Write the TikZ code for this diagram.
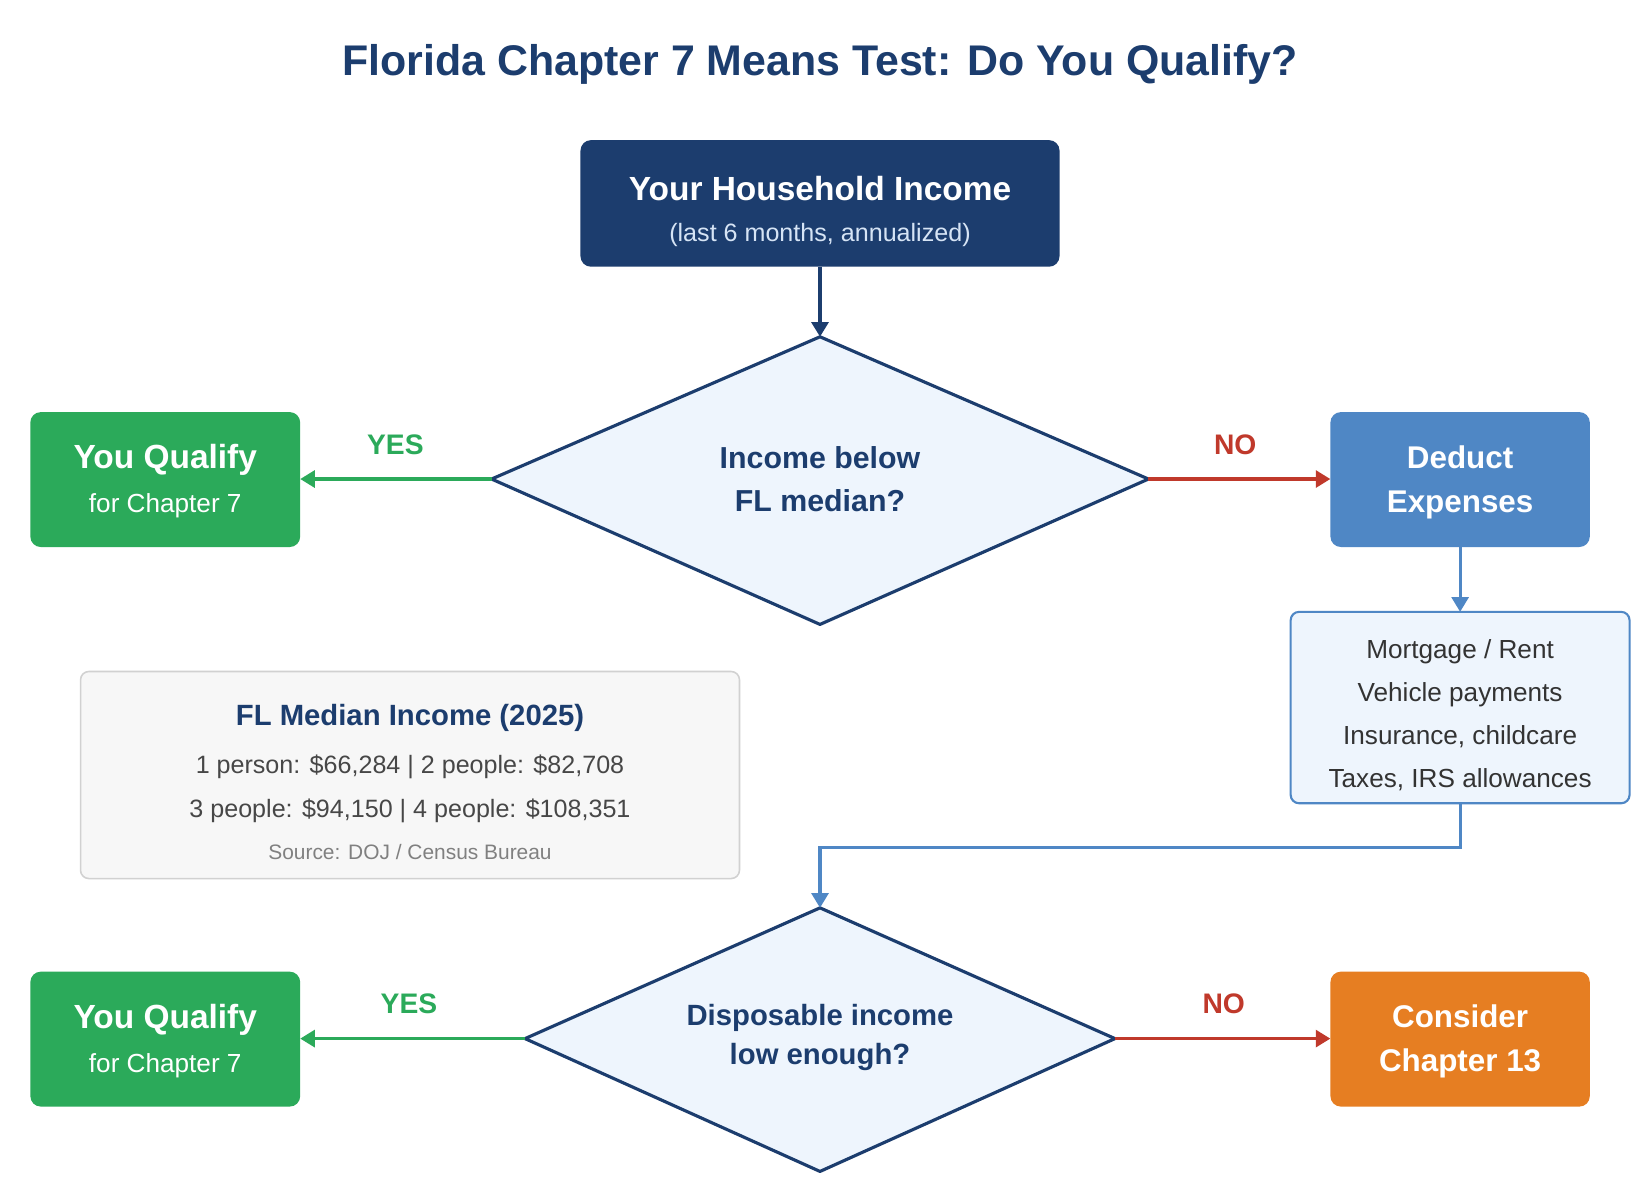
\documentclass[tikz,border=0pt]{standalone}
\usepackage{fontspec}
\setmainfont{Liberation Sans}
\usetikzlibrary{arrows.meta,shapes.geometric}
\definecolor{navy}{HTML}{1C3D6E}
\definecolor{lightbg}{HTML}{EEF5FD}
\definecolor{grn}{HTML}{2BAA5A}
\definecolor{redc}{HTML}{C0392B}
\definecolor{bluec}{HTML}{4F87C5}
\definecolor{orng}{HTML}{E67E22}
\definecolor{txtlight}{HTML}{D6E4F5}
\newcommand{\fs}[1]{\fontsize{#1}{#1}\selectfont}
\begin{document}
\begin{tikzpicture}[x=1pt,y=-1pt,
  box/.style={rounded corners=10pt},
  arr/.style={line width=3.5pt,-{Triangle[length=14pt,width=16pt]}},
  lbl/.style={font=\fs{27}\bfseries,anchor=center},
  txt/.style={anchor=center,inner sep=0pt}]
\useasboundingbox (0,0) rectangle (1568,1147);
\fill[white] (0,0) rectangle (1568,1147);
\node[txt,text=navy,font=\fs{41}\bfseries] (title) at (784,62) {Florida Chapter 7 Means Test: Do You Qualify?};
% box 1
\fill[navy,box] (555,134) rectangle (1013,255);
\coordinate (b1b) at (784,255);
\node[txt,text=white,font=\fs{32}\bfseries] (b1t) at (784,180) {Your Household Income};
\node[txt,text=txtlight,font=\fs{24}] (b1s) at (784,225) {(last 6 months, annualized)};
% diamond 1
\draw[navy,fill=lightbg,line width=3pt,line join=round] (470,458) coordinate (d1l) -- (784,322) coordinate (d1t) -- (1098,458) coordinate (d1r) -- (784,597) -- cycle;
\node[txt,text=navy,font=\fs{29}\bfseries,align=center] (d1) at (784,458) {Income below\\[12pt]FL median?};
\draw[arr,navy] (b1b) -- (d1t);
% green 1
\fill[grn,box] (29,394) rectangle (287,523);
\coordinate (g1r) at (287,458);
\node[txt,text=white,font=\fs{32}\bfseries] (g1t) at (158,440) {You Qualify};
\node[txt,text=white,font=\fs{25}] (g1s) at (158,484) {for Chapter 7};
\draw[arr,grn] (d1l) -- (g1r);
\node[lbl,text=grn] (y1) at (378,425) {YES};
% deduct
\fill[bluec,box] (1272,394) rectangle (1520,523);
\coordinate (dl) at (1272,458);
\coordinate (db) at (1396,523);
\node[txt,text=white,font=\fs{30}\bfseries,align=center] (dt) at (1396,461) {Deduct\\[12pt]Expenses};
\draw[arr,redc] (d1r) -- (dl);
\node[lbl,text=redc] (n1) at (1181,425) {NO};
% expenses
\draw[bluec,fill=lightbg,line width=2pt,rounded corners=8pt] (1234,585) rectangle (1558,768);
\coordinate (et) at (1396,585);
\coordinate (eb) at (1396,768);
\node[txt,text=black!80,font=\fs{25},align=center] (el) at (1396,684) {Mortgage / Rent\\[16pt]Vehicle payments\\[16pt]Insurance, childcare\\[16pt]Taxes, IRS allowances};
\draw[arr,bluec,line width=3pt] (db) -- (et);
% median box
\draw[black!18,fill=black!3,line width=1.5pt,rounded corners=8pt] (77,642) rectangle (707,840);
\node[txt,text=navy,font=\fs{28}\bfseries] (mt) at (392,686) {FL Median Income (2025)};
\node[txt,text=black!72,font=\fs{24}] (m1) at (392,733) {1 person: \$66,284 | 2 people: \$82,708};
\node[txt,text=black!72,font=\fs{24}] (m2) at (392,775) {3 people: \$94,150 | 4 people: \$108,351};
\node[txt,text=black!50,font=\fs{20}] (m3) at (392,815) {Source: DOJ / Census Bureau};
% diamond 2
\draw[navy,fill=lightbg,line width=3pt,line join=round] (502,993) coordinate (d2l) -- (784,868) coordinate (d2t) -- (1066,993) coordinate (d2r) -- (784,1120) -- cycle;
\node[txt,text=navy,font=\fs{28}\bfseries,align=center] (d2) at (784,992) {Disposable income\\[10pt]low enough?};
\draw[arr,bluec,line width=3pt,rounded corners=0pt] (eb) -- (1396,810) -- (784,810) -- (d2t);
% green 2
\fill[grn,box] (29,929) rectangle (287,1058);
\coordinate (g2r) at (287,993);
\node[txt,text=white,font=\fs{32}\bfseries] (g2t) at (158,975) {You Qualify};
\node[txt,text=white,font=\fs{25}] (g2s) at (158,1019) {for Chapter 7};
\draw[arr,grn] (d2l) -- (g2r);
\node[lbl,text=grn] (y2) at (391,960) {YES};
% orange
\fill[orng,box] (1272,929) rectangle (1520,1058);
\coordinate (ol) at (1272,993);
\node[txt,text=white,font=\fs{30}\bfseries,align=center] (ot) at (1396,996) {Consider\\[12pt]Chapter 13};
\draw[arr,redc] (d2r) -- (ol);
\node[lbl,text=redc] (n2) at (1170,960) {NO};
\end{tikzpicture}
\end{document}
